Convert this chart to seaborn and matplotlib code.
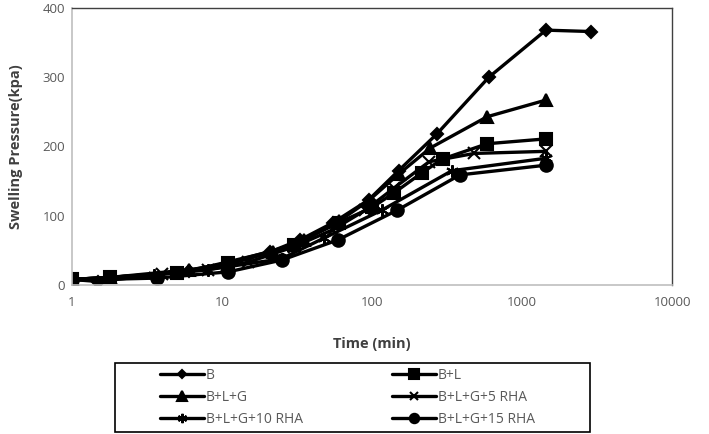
import pandas as pd
import matplotlib
matplotlib.use("Agg")
import matplotlib.pyplot as plt
from matplotlib.patches import Rectangle
import seaborn as sns

# Data (time in min, swelling pressure in kPa)
t_b = [1, 1.5, 6, 21, 33, 55, 95, 150, 270, 600, 1440, 2880]
p_b = [8, 5, 20, 48, 65, 90, 123, 165, 218, 300, 368, 366]

t_bl = [1, 1.8, 5, 11, 30, 60, 100, 140, 215, 295, 585, 1440]
p_bl = [8, 11, 18, 32, 58, 90, 112, 133, 162, 182, 204, 211]

t_blg = [1, 1.8, 6, 11, 22, 35, 60, 95, 150, 245, 585, 1440]
p_blg = [8, 11, 22, 30, 48, 65, 92, 122, 160, 198, 243, 267]

t_5rha = [1, 1.8, 4, 8, 15, 30, 55, 90, 140, 240, 480, 1440]
p_5rha = [8, 11, 16, 22, 33, 55, 80, 108, 140, 178, 190, 193]

t_10rha = [1, 3.5, 8, 25, 48, 116, 340, 1440]
p_10rha = [8, 15, 22, 38, 68, 108, 165, 183]

t_15rha = [1, 3.7, 11, 25, 59, 147, 385, 1440]
p_15rha = [7, 10, 19, 36, 65, 108, 159, 173]

series = ['B', 'B+L', 'B+L+G', 'B+L+G+5 RHA', 'B+L+G+10 RHA', 'B+L+G+15 RHA']
times = [t_b, t_bl, t_blg, t_5rha, t_10rha, t_15rha]
values = [p_b, p_bl, p_blg, p_5rha, p_10rha, p_15rha]
markers = {'B': 'D', 'B+L': 's', 'B+L+G': '^', 'B+L+G+5 RHA': 'x',
           'B+L+G+10 RHA': (6, 2, 0), 'B+L+G+15 RHA': 'o'}
sizes = {'B': 6, 'B+L': 9, 'B+L+G': 9, 'B+L+G+5 RHA': 8,
         'B+L+G+10 RHA': 9, 'B+L+G+15 RHA': 9}

df = pd.concat([pd.DataFrame({'series': s, 'time': t, 'pressure': v})
                for s, t, v in zip(series, times, values)], ignore_index=True)

sns.set_style("white")
plt.rcParams['font.family'] = ['Open Sans', 'DejaVu Sans']

fig = plt.figure(figsize=(7.09, 4.34), dpi=100)
ax = fig.add_axes([0.1016, 0.3433, 0.8464, 0.6383])

for s in series:
    sub = df[df['series'] == s]
    sns.lineplot(data=sub, x='time', y='pressure', ax=ax, color='black',
                 linewidth=2.4, marker=markers[s], markersize=sizes[s],
                 markeredgewidth=1.5, markeredgecolor='black',
                 sort=False, estimator=None, label=s)

ax.set_xscale('log')
ax.set_xlim(1, 10000)
ax.set_ylim(0, 400)
ax.set_yticks([0, 100, 200, 300, 400])
ax.set_xticks([1, 10, 100, 1000, 10000])
ax.set_xticklabels(['1', '10', '100', '1000', '10000'])
ax.minorticks_off()
ax.tick_params(axis='both', length=0, labelsize=9.5, colors='#595959', pad=8)
ax.tick_params(axis='y', pad=5)

for side in ['left', 'bottom']:
    ax.spines[side].set_color('#bfbfbf')
    ax.spines[side].set_linewidth(1.2)
for side in ['top', 'right']:
    ax.spines[side].set_color('#404040')
    ax.spines[side].set_linewidth(1.0)

ax.set_xlabel('Time (min)', fontsize=10.5, fontweight='bold', color='#404040', labelpad=20)
ax.set_ylabel('Swelling Pressure(kpa)', fontsize=10.5, fontweight='bold', color='#404040', labelpad=14)

handles, labels = ax.get_legend_handles_labels()
ax.get_legend().remove()
order = [0, 2, 4, 1, 3, 5]
leg = fig.legend([handles[i] for i in order], [labels[i] for i in order],
                 ncol=2, loc='upper left', bbox_to_anchor=(0.2257, 0.152),
                 frameon=False, fontsize=10, handlelength=3.2,
                 handletextpad=0.1, labelspacing=0.5, borderpad=0,
                 borderaxespad=0, columnspacing=6.4, markerscale=0.75)
for txt in leg.get_texts():
    txt.set_color('#595959')

fig.add_artist(Rectangle((0.1622, 0.0046), 0.67, 0.159, transform=fig.transFigure,
                         fill=False, edgecolor='black', linewidth=1.2))

fig.savefig('out.png', dpi=100)
